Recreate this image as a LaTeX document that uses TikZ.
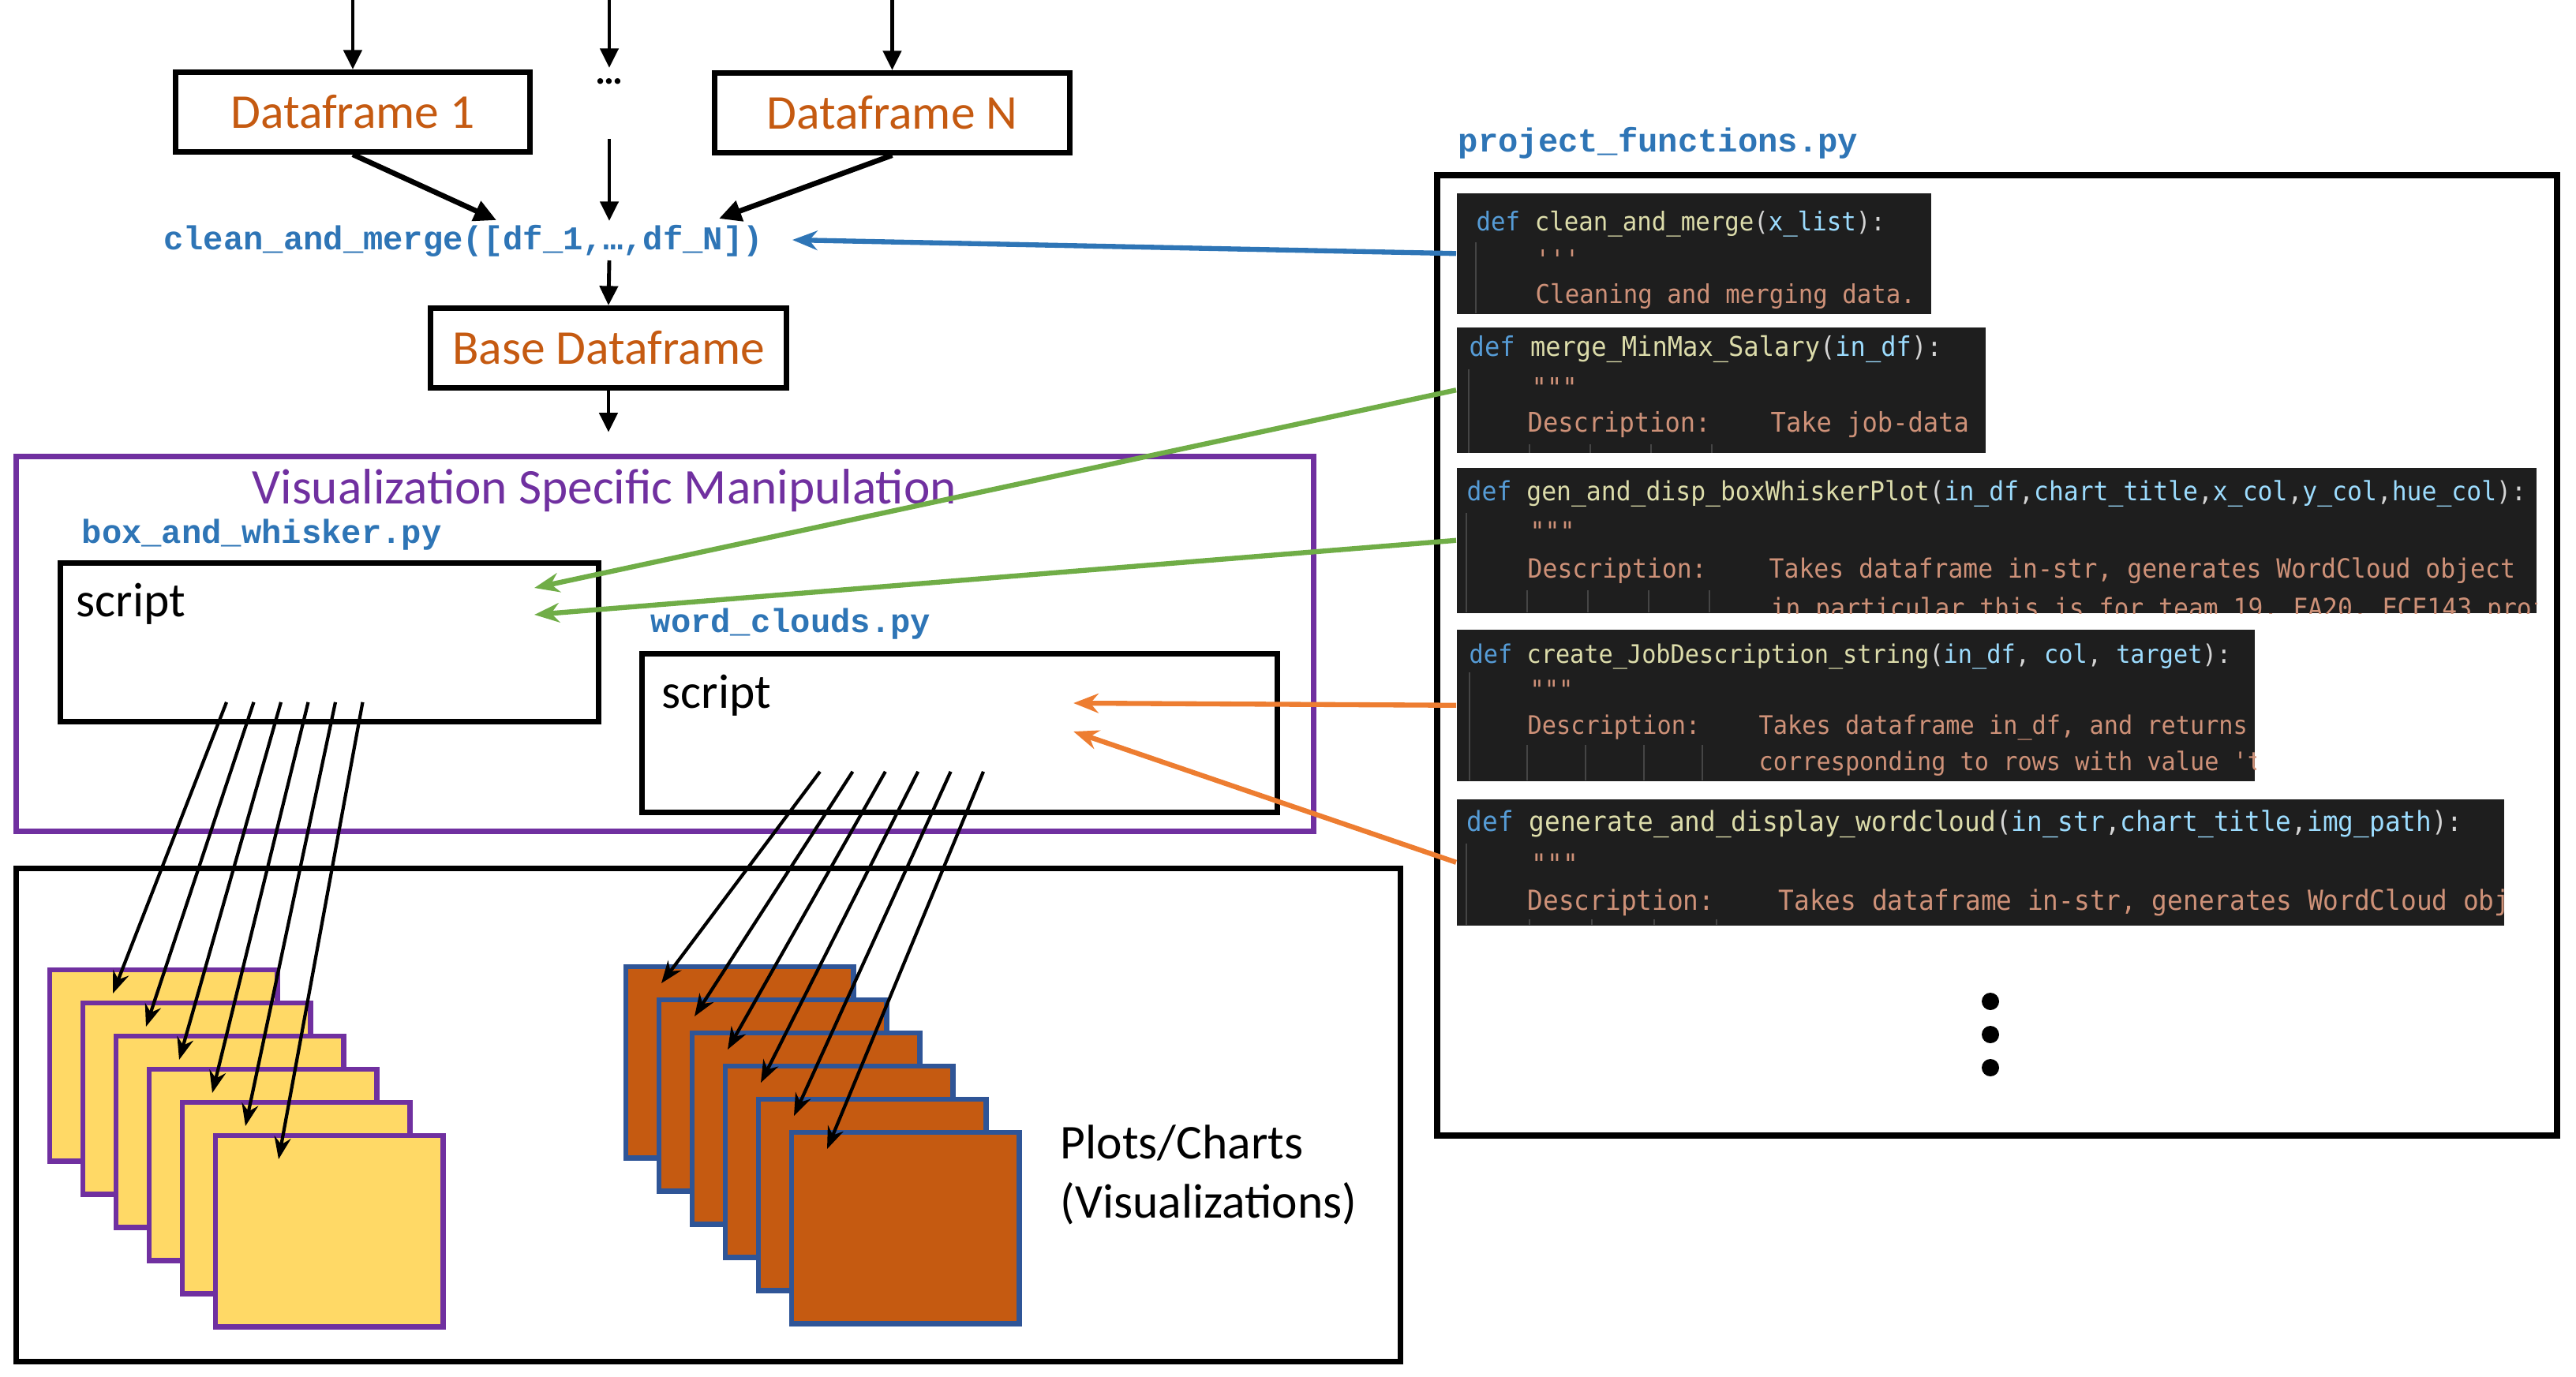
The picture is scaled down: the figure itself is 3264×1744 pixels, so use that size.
\documentclass[tikz,border=0pt]{standalone}
\usepackage{fontspec}
\setmainfont{Carlito}
\newfontfamily\pyfont{Liberation Mono}
\newfontfamily\codefont[FakeStretch=0.935]{DejaVu Sans Mono}
\usetikzlibrary{arrows.meta,calc,positioning}
\definecolor{dforange}{HTML}{C55A11}
\definecolor{vizpurple}{HTML}{7030A0}
\definecolor{fileblue}{HTML}{2E75B6}
\definecolor{callgreen}{HTML}{70AD47}
\definecolor{callorange}{HTML}{ED7D31}
\definecolor{plotyellow}{HTML}{FFD966}
\definecolor{plotblue}{HTML}{2F5597}
\definecolor{codebg}{HTML}{1E1E1E}
\definecolor{kwblue}{HTML}{569CD6}
\definecolor{fnyellow}{HTML}{DCDCAA}
\definecolor{parblue}{HTML}{9CDCFE}
\definecolor{punct}{HTML}{D4D4D4}
\definecolor{strorange}{HTML}{CE9178}
\definecolor{guidegray}{HTML}{454545}
\newcommand{\sq}{\char"27}
\newcommand{\dq}{\char"22}
\newcommand{\pa}[1]{\textcolor{parblue}{#1}}
\newcommand{\pc}{\textcolor{punct}{,}}
\newcommand{\defline}[2]{\textcolor{kwblue}{def} \textcolor{fnyellow}{#1}\textcolor{punct}{(}#2\textcolor{punct}{):}}
\tikzset{codesize/.style={every node/.append style={font=\codefont\fontsize{#1}{11}\selectfont}}}

\begin{document}
\begin{tikzpicture}[x=0.01cm,y=-0.01cm]
\tikzstyle{dfbox}=[draw, line width=1.9pt, minimum width=4.49cm, minimum height=1.01cm, anchor=north west, text=dforange, font=\fontsize{17.5}{21}\selectfont]
\tikzstyle{pyname}=[fileblue, font=\pyfont\bfseries\fontsize{12}{14}\selectfont, anchor=west, inner sep=0pt]
\tikzstyle{scriptbox}=[draw, line width=1.9pt, minimum height=2.01cm, anchor=north west]
\tikzstyle{scripttext}=[font=\fontsize{17.5}{21}\selectfont, anchor=west, inner sep=0pt]
\tikzstyle{plotbox}=[line width=1.8pt, minimum width=2.88cm, minimum height=2.42cm, anchor=north west]
\tikzstyle{codebox}=[fill=codebg, anchor=north west, inner sep=0pt]
\tikzstyle{code}=[text=strorange, anchor=base west, inner sep=0pt]
\tikzstyle{guide}=[guidegray, line width=0.35pt]
\tikzstyle{inarrow}=[line width=1.4pt, -{Triangle[length=7pt,width=6.5pt]}]
\tikzstyle{mergearrow}=[line width=1.9pt, -{Triangle[length=8pt,width=7.5pt]}]
\tikzstyle{feed}=[line width=1.2pt, -{Stealth[length=8pt,width=6pt]}]
\tikzstyle{callarrow}=[line width=1.8pt, -{Stealth[length=9pt,width=7pt]}]
\useasboundingbox (0,0) rectangle (3264,1744);

\node [draw=vizpurple, line width=1.9pt, minimum width=16.43cm, minimum height=4.75cm, anchor=north west] (viz) at (17,575) {};
\node [draw, line width=1.9pt, minimum width=17.53cm, minimum height=6.25cm, anchor=north west] (out) at (17,1097) {};
\node [draw, line width=2.3pt, minimum width=14.18cm, minimum height=12.16cm, anchor=north west] (frame) at (1817,218) {};

\node [dfbox] (df1) at (219,88) {Dataframe 1};
\node [dfbox, minimum width=4.5cm] (dfN) at (902,89) {Dataframe N};
\node [font=\bfseries\fontsize{14}{16}\selectfont, inner sep=0pt] (dots) at (772,103) {…};
\node [fileblue, font=\pyfont\bfseries\fontsize{12}{14}\selectfont, inner sep=0pt] (merge) at (587,305) {clean\_and\_merge([df\_1,…,df\_N])};
\node [dfbox, minimum width=4.51cm] (base) at (542,387) {Base Dataframe};

\coordinate (src1) at ($(df1.north)+(0,-88)$);
\coordinate (srcN) at ($(dfN.north)+(0,-89)$);
\coordinate (srcdots) at ($(dots)+(0,-103)$);
\draw [inarrow] (src1) -- (df1.north);
\draw [inarrow] (srcN) -- (dfN.north);
\draw [inarrow] (srcdots) -- ($(dots)+(0,-17)$);
\draw [inarrow] ($(dots)+(0,73)$) -- ($(merge.center)+(185,-25)$);
\draw [mergearrow] (df1.south) -- ($(merge.center)+(42,-26)$);
\draw [mergearrow] (dfN.south) -- ($(merge.center)+(324,-28)$);
\draw [inarrow] ($(merge.center)+(185,25)$) -- (base.north);
\draw [inarrow] (base.south) -- ($(base.south)+(0,53)$);

\node [vizpurple, font=\fontsize{18}{21}\selectfont, inner sep=0pt] (viztitle) at (766,622) {Visualization Specific Manipulation};
\node [pyname] (bwname) at (103,678) {box\_and\_whisker.py};
\node [scriptbox, minimum width=6.82cm] (bwscript) at (73,710) {};
\node [scripttext] (bwtext) at (96,765) {script};
\node [pyname] (wcname) at (824,791) {word\_clouds.py};
\node [scriptbox, minimum width=8.05cm] (wcscript) at (810,825) {};
\node [scripttext] (wctext) at (838,881) {script};

\foreach \i in {0,...,5} {
  \node [plotbox, draw=vizpurple, fill=plotyellow] (y\i) at (60+42*\i,1226+42*\i) {};
  \node [plotbox, draw=plotblue, fill=dforange] (o\i) at (790+42*\i,1222+42*\i) {};
}
\foreach \i in {0,...,5} {
  \draw [feed] ($(bwscript.south west)+(214+34.5*\i,-28)$) -- ($(y\i.north west)+(83,33)$);
  \draw [feed] ($(wcscript.south west)+(229+41.4*\i,-55)$) -- ($(o\i.north west)+(48,24)$);
}
\node [font=\fontsize{17.5}{21.3}\selectfont, align=left, anchor=west, inner sep=0pt] (plots) at (1343,1489) {Plots/Charts\\(Visualizations)};

\node [pyname] (pfname) at (1847,181) {project\_functions.py};

\node [codebox, minimum width=6.01cm, minimum height=1.53cm] (c1) at (1845,244) {};
\node [codebox, minimum width=6.70cm, minimum height=1.59cm] (c2) at (1845,414) {};
\node [codebox, minimum width=13.67cm, minimum height=1.84cm] (c3) at (1845,592) {};
\node [codebox, minimum width=10.11cm, minimum height=1.92cm] (c4) at (1845,797) {};
\node [codebox, minimum width=13.26cm, minimum height=1.60cm] (c5) at (1845,1012) {};

\begin{scope}[codesize=9.35]
  \clip (c1.north west) rectangle (c1.south east);
  \draw [guide] (1870,307) -- (1870,397);
  \node [code] at (1870,292) {\defline{clean\_and\_merge}{\pa{x\_list}}};
  \node [code] at (1945,340) {\sq\sq\sq};
  \node [code] at (1945,384) {Cleaning and merging data.};
\end{scope}
\begin{scope}[codesize=9.76]
  \clip (c2.north west) rectangle (c2.south east);
  \draw [guide] (1861,468) -- (1861,574);
  \foreach \g in {0,...,3} \draw [guide] (1938+77*\g,563) -- (1938+77*\g,574);
  \node [code] at (1861,451) {\defline{merge\_MinMax\_Salary}{\pa{in\_df}}};
  \node [code] at (1940,503) {\dq\dq\dq};
  \node [code] at (1935,547) {Description:};
  \node [code] at (2243,547) {Take job-data};
\end{scope}
\begin{scope}[codesize=9.55]
  \clip (c3.north west) rectangle (c3.south east);
  \draw [guide] (1858,650) -- (1858,776);
  \foreach \g in {0,...,3} \draw [guide] (1935+77*\g,748) -- (1935+77*\g,776);
  \node [code] at (1858,634) {\defline{gen\_and\_disp\_boxWhiskerPlot}{\pa{in\_df}\pc\pa{chart\_title}\pc\pa{x\_col}\pc\pa{y\_col}\pc\pa{hue\_col}}};
  \node [code] at (1938,685) {\dq\dq\dq};
  \node [code] at (1935,732) {Description:};
  \node [code] at (2241,732) {Takes dataframe in-str, generates WordCloud object};
  \node [code] at (2243,782) {in particular this is for team 19, FA20, ECE143 project};
\end{scope}
\begin{scope}[codesize=9.2]
  \clip (c4.north west) rectangle (c4.south east);
  \draw [guide] (1862,852) -- (1862,989);
  \foreach \g in {0,...,3} \draw [guide] (1935+74*\g,944) -- (1935+74*\g,989);
  \node [code] at (1861,840) {\defline{create\_JobDescription\_string}{\pa{in\_df}\pc{} \pa{col}\pc{} \pa{target}}};
  \node [code] at (1938,885) {\dq\dq\dq};
  \node [code] at (1935,930) {Description:};
  \node [code] at (2228,930) {Takes dataframe in\_df, and returns};
  \node [code] at (2228,976) {corresponding to rows with value \sq target\sq};
\end{scope}
\begin{scope}[codesize=9.96]
  \clip (c5.north west) rectangle (c5.south east);
  \draw [guide] (1858,1069) -- (1858,1172);
  \foreach \g in {0,...,3} \draw [guide] (1938+79*\g,1165) -- (1938+79*\g,1172);
  \node [code] at (1858,1053) {\defline{generate\_and\_display\_wordcloud}{\pa{in\_str}\pc\pa{chart\_title}\pc\pa{img\_path}}};
  \node [code] at (1940,1107) {\dq\dq\dq};
  \node [code] at (1935,1153) {Description:};
  \node [code] at (2253,1153) {Takes dataframe in-str, generates WordCloud object};
\end{scope}

\foreach \k in {0,1,2}
  \node [fill, circle, minimum size=0.22cm, inner sep=0pt] (more\k) at (2522,1269+42*\k) {};

\draw [callarrow, fileblue] (c1.west) -- ($(merge.center)+(417,-1)$);
\draw [callarrow, callgreen] (c2.west) -- ($(bwscript.north east)+(-85,35)$);
\draw [callarrow, callgreen] (c3.west) -- ($(bwscript.north east)+(-85,69)$);
\draw [callarrow, callorange] (c4.west) -- ($(wcscript.north east)+(-262,66)$);
\draw [callarrow, callorange] (c5.west) -- ($(wcscript.north east)+(-262,102)$);
\end{tikzpicture}
\end{document}
